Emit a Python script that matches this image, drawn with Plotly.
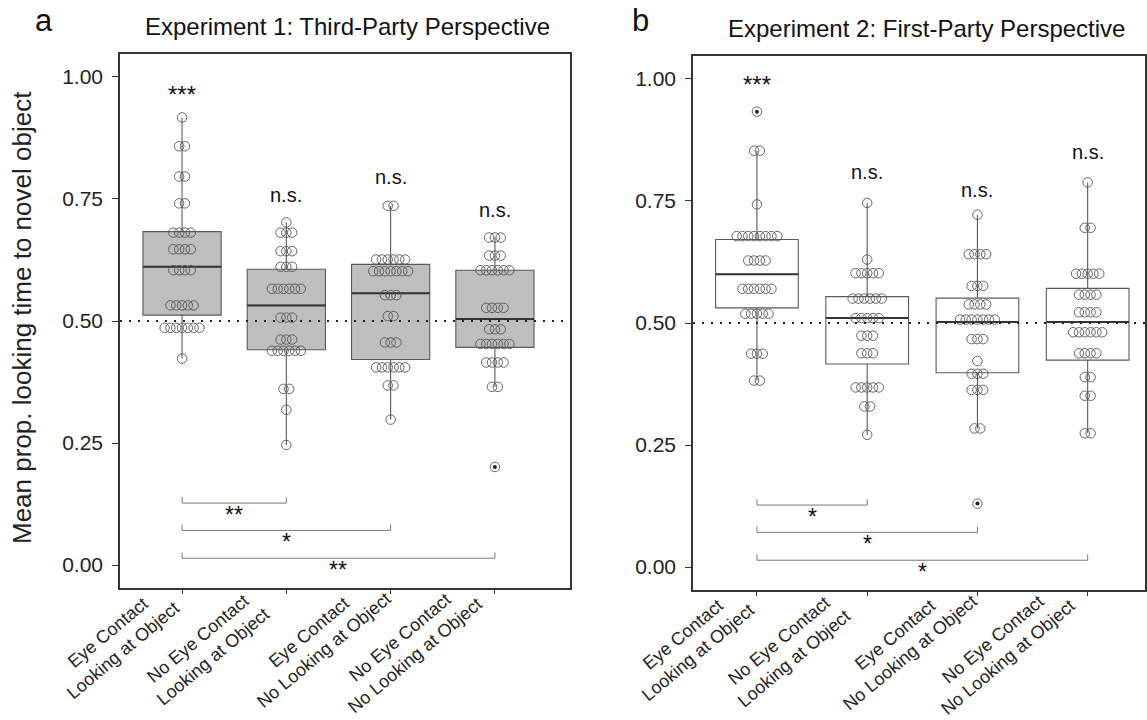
import plotly.graph_objects as go

# ---------------- data ----------------
conditions = ["Eye Contact<br>Looking at Object", "No Eye Contact<br>Looking at Object",
              "Eye Contact<br>No Looking at Object", "No Eye Contact<br>No Looking at Object"]
titles = ["Experiment 1: Third-Party Perspective", "Experiment 2: First-Party Perspective"]
panel_letters = ["a", "b"]
y_title = "Mean prop. looking time to novel object"
y_ticks = [0.0, 0.25, 0.5, 0.75, 1.0]
y_ticklabels = ["0.00", "0.25", "0.50", "0.75", "1.00"]

# Panel a: dot values and counts per condition
a1_vals = [0.917, 0.858, 0.796, 0.741, 0.681, 0.647, 0.604, 0.532, 0.486, 0.423]
a1_cnts = [1, 2, 2, 2, 4, 4, 4, 5, 7, 1]
a2_vals = [0.702, 0.681, 0.643, 0.611, 0.566, 0.507, 0.462, 0.439, 0.361, 0.318, 0.246]
a2_cnts = [1, 3, 3, 3, 6, 3, 3, 6, 2, 1, 1]
a3_vals = [0.736, 0.626, 0.602, 0.553, 0.510, 0.456, 0.405, 0.368, 0.298]
a3_cnts = [2, 6, 7, 3, 2, 3, 6, 2, 1]
a4_vals = [0.671, 0.634, 0.604, 0.527, 0.483, 0.453, 0.415, 0.365, 0.201]
a4_cnts = [3, 3, 6, 4, 3, 6, 4, 2, 1]

# Panel b
b1_vals = [0.933, 0.853, 0.743, 0.678, 0.628, 0.570, 0.519, 0.437, 0.382]
b1_cnts = [1, 2, 1, 8, 4, 6, 5, 3, 2]
b2_vals = [0.746, 0.630, 0.602, 0.550, 0.510, 0.474, 0.438, 0.368, 0.329, 0.271]
b2_cnts = [1, 1, 5, 6, 5, 3, 3, 5, 2, 1]
b3_vals = [0.722, 0.641, 0.576, 0.538, 0.507, 0.467, 0.422, 0.396, 0.363, 0.284, 0.130]
b3_cnts = [1, 4, 3, 4, 7, 3, 1, 3, 3, 2, 1]
b4_vals = [0.788, 0.695, 0.601, 0.558, 0.522, 0.481, 0.438, 0.389, 0.351, 0.274]
b4_cnts = [1, 2, 5, 4, 4, 6, 4, 2, 2, 2]

# Box summaries
a_q1 = [0.512, 0.441, 0.421, 0.446]
a_med = [0.611, 0.532, 0.557, 0.504]
a_q3 = [0.683, 0.606, 0.616, 0.604]
a_lo = [0.423, 0.246, 0.298, 0.365]
a_hi = [0.917, 0.702, 0.736, 0.671]
a_out_x = [3]
a_out_y = [0.201]

b_q1 = [0.531, 0.416, 0.398, 0.424]
b_med = [0.600, 0.510, 0.502, 0.502]
b_q3 = [0.671, 0.554, 0.551, 0.571]
b_lo = [0.382, 0.271, 0.284, 0.274]
b_hi = [0.853, 0.746, 0.722, 0.788]
b_out_x = [0, 2]
b_out_y = [0.933, 0.130]

# significance vs chance
a_sig = ["***", "n.s.", "n.s.", "n.s."]
b_sig = ["***", "n.s.", "n.s.", "n.s."]
# pairwise comparisons (from group 0 to group k)
a_pairs = [(0, 1), (0, 2), (0, 3)]
a_pair_labels = ["**", "*", "**"]
b_pairs = [(0, 1), (0, 2), (0, 3)]
b_pair_labels = ["*", "*", "*"]

# ---------------- layout / styling ----------------
W, H = 1147, 720
FONT = "Liberation Sans"
panels = [
    dict(xa="x", ya="y", xdom=(120, 570), ydom=(54, 588), xr=[-0.595, 3.72],
         groups=[(a1_vals, a1_cnts), (a2_vals, a2_cnts), (a3_vals, a3_cnts), (a4_vals, a4_cnts)],
         q1=a_q1, med=a_med, q3=a_q3, lo=a_lo, hi=a_hi, ox=a_out_x, oy=a_out_y,
         fill="#BEBEBE", sig=a_sig, sig_y=[0.963, 0.758, 0.795, 0.727],
         pairs=a_pairs, plabels=a_pair_labels),
    dict(xa="x2", ya="y2", xdom=(693, 1145), ydom=(56, 590), xr=[-0.58, 3.52],
         groups=[(b1_vals, b1_cnts), (b2_vals, b2_cnts), (b3_vals, b3_cnts), (b4_vals, b4_cnts)],
         q1=b_q1, med=b_med, q3=b_q3, lo=b_lo, hi=b_hi, ox=b_out_x, oy=b_out_y,
         fill="#FFFFFF", sig=b_sig, sig_y=[0.988, 0.809, 0.772, 0.85],
         pairs=b_pairs, plabels=b_pair_labels),
]
bracket_y = [0.127, 0.071, 0.014]
bracket_tick = 0.012
label_off = 0.024
yrange = [-0.047, 1.047]
BOXW = 0.75
# rotated category label placement: block-centre offset from tick (px) and depth below axis (px)
lab_dx_px = [-67, -81, -75, -88]
lab_dy_px = [53, 59, 53, 58]

fig = go.Figure()
annotations = []
shapes = []

for p in panels:
    xa, ya = p["xa"], p["ya"]
    ppu = (p["xdom"][1] - p["xdom"][0]) / (p["xr"][1] - p["xr"][0])  # px per category unit
    # boxes
    fig.add_trace(go.Box(
        x=list(range(4)), q1=p["q1"], median=p["med"], q3=p["q3"],
        lowerfence=p["lo"], upperfence=p["hi"], width=BOXW, whiskerwidth=0,
        fillcolor=p["fill"], line=dict(color="#5a5a5a", width=1.1),
        boxpoints=False, xaxis=xa, yaxis=ya, showlegend=False, hoverinfo="skip"))
    # median lines (darker)
    for i, m in enumerate(p["med"]):
        fig.add_trace(go.Scatter(x=[i - BOXW / 2, i + BOXW / 2], y=[m, m], mode="lines",
                                 line=dict(color="#333333", width=2), xaxis=xa, yaxis=ya,
                                 showlegend=False, hoverinfo="skip"))
    # dots (centered stacks)
    step = 5.8 / ppu
    for gi, (vals, cnts) in enumerate(p["groups"]):
        xs, ys = [], []
        for v, c in zip(vals, cnts):
            for k in range(c):
                xs.append(gi + (k - (c - 1) / 2) * step)
                ys.append(v)
        fig.add_trace(go.Scatter(x=xs, y=ys, mode="markers",
                                 marker=dict(symbol="circle-open", size=9.5,
                                             color="#555555", line=dict(width=0.9)),
                                 xaxis=xa, yaxis=ya, showlegend=False, hoverinfo="skip"))
    # outliers
    fig.add_trace(go.Scatter(x=p["ox"], y=p["oy"], mode="markers",
                             marker=dict(symbol="circle", size=4, color="#222222"),
                             xaxis=xa, yaxis=ya, showlegend=False, hoverinfo="skip"))
    # chance line
    shapes.append(dict(type="line", xref=f"{xa} domain", yref=ya, x0=0, x1=1, y0=0.5, y1=0.5,
                       line=dict(color="#222222", width=2, dash="2px,7px"), layer="above"))
    # significance labels
    for i, (s, sy) in enumerate(zip(p["sig"], p["sig_y"])):
        annotations.append(dict(x=i, y=sy, xref=xa, yref=ya, text=s, showarrow=False,
                                font=dict(family=FONT, size=20 if s == "n.s." else 24,
                                          color="#111111")))
    # pairwise brackets
    for (g0, g1), lab, by in zip(p["pairs"], p["plabels"], bracket_y):
        fig.add_trace(go.Scatter(x=[g0, g0, g1, g1], y=[by + bracket_tick, by, by, by + bracket_tick],
                                 mode="lines", line=dict(color="#777777", width=1),
                                 xaxis=xa, yaxis=ya, showlegend=False, hoverinfo="skip"))
        annotations.append(dict(x=(g0 + g1) / 2, y=by - label_off, xref=xa, yref=ya, text=lab,
                                showarrow=False, font=dict(family=FONT, size=23, color="#111111")))
    # rotated, centre-aligned category labels (placed in paper coords from the axis scale)
    for i, lab in enumerate(conditions):
        tick_px = p["xdom"][0] + (i - p["xr"][0]) * ppu
        annotations.append(dict(x=(tick_px + lab_dx_px[i]) / W,
                                y=1 - (p["ydom"][1] + lab_dy_px[i]) / H,
                                xref="paper", yref="paper", text=lab, showarrow=False,
                                textangle=-40, align="center", xanchor="center", yanchor="middle",
                                font=dict(family=FONT, size=18, color="#222222")))

# titles, panel letters and y title
annotations += [
    dict(x=347 / W, y=1 - 27 / H, xref="paper", yref="paper", text=titles[0], showarrow=False,
         xanchor="center", yanchor="middle", font=dict(family=FONT, size=24, color="#111111")),
    dict(x=926 / W, y=1 - 29 / H, xref="paper", yref="paper", text=titles[1], showarrow=False,
         xanchor="center", yanchor="middle", font=dict(family=FONT, size=24, color="#111111")),
    dict(x=33 / W, y=1 - 20 / H, xref="paper", yref="paper", text=panel_letters[0], showarrow=False,
         xanchor="left", yanchor="middle", font=dict(family=FONT, size=31, color="#111111")),
    dict(x=630 / W, y=1 - 20 / H, xref="paper", yref="paper", text=panel_letters[1], showarrow=False,
         xanchor="left", yanchor="middle", font=dict(family=FONT, size=31, color="#111111")),
    dict(x=22 / W, y=1 - 318 / H, xref="paper", yref="paper", text=y_title, showarrow=False,
         textangle=-90, xanchor="center", yanchor="middle",
         font=dict(family=FONT, size=26, color="#222222")),
]

axis_common = dict(showgrid=False, zeroline=False, showline=True, mirror=True, automargin=False,
                   linecolor="#333333", linewidth=1.5, ticks="outside", ticklen=6,
                   tickcolor="#333333", tickfont=dict(family=FONT, size=21, color="#222222"))

layout = dict(width=W, height=H, margin=dict(l=0, r=0, t=0, b=0, autoexpand=False),
              plot_bgcolor="white", paper_bgcolor="white",
              annotations=annotations, shapes=shapes, showlegend=False)

for idx, p in enumerate(panels):
    sfx = "" if idx == 0 else "2"
    layout["xaxis" + sfx] = dict(axis_common, domain=[p["xdom"][0] / W, p["xdom"][1] / W],
                                 range=p["xr"], tickmode="array", tickvals=list(range(4)),
                                 showticklabels=False, ticklen=4, anchor="y" + sfx)
    layout["yaxis" + sfx] = dict(axis_common, domain=[1 - p["ydom"][1] / H, 1 - p["ydom"][0] / H],
                                 range=yrange, tickmode="array", tickvals=y_ticks,
                                 ticktext=y_ticklabels, anchor="x" + sfx, ticklabelstandoff=5)

fig.update_layout(**layout)
fig.write_html("out.html")
